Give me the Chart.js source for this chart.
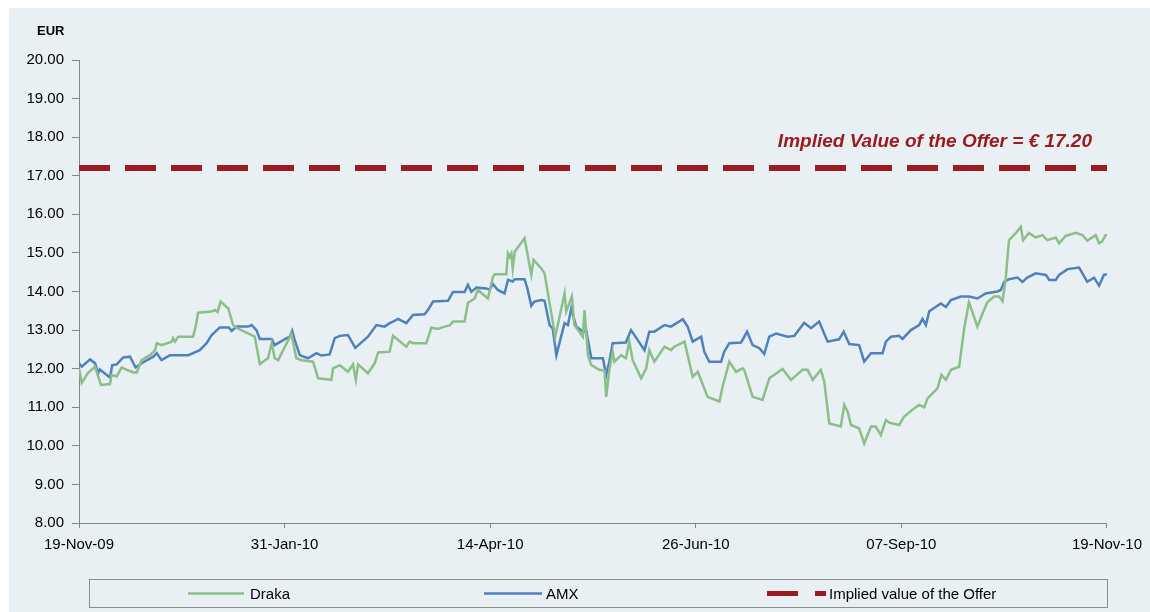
<!DOCTYPE html>
<html>
<head>
<meta charset="utf-8">
<script src="https://cdn.jsdelivr.net/npm/chart.js@4/dist/chart.umd.min.js"></script>
<style>
  html, body { margin: 0; padding: 0; background: #ffffff; }
  #wrap { width: 1150px; height: 612px; position: relative; }
</style>
</head>
<body>
<div id="wrap"><canvas id="c" width="1150" height="612"></canvas></div>
<script>
// ---- Data (days since 19-Nov-09, price in EUR) ----
const xTickLabels = ['19-Nov-09', '31-Jan-10', '14-Apr-10', '26-Jun-10', '07-Sep-10', '19-Nov-10'];
const xTickDays = [0, 73, 146, 219, 292, 365];
const seriesNames = ['Draka', 'AMX', 'Implied value of the Offer'];
const offerValue = 17.20;
const offerLabel = 'Implied Value of the Offer = € 17.20';
const yUnit = 'EUR';

const drakaDays = [0.0,1.0,3.2,4.5,5.7,6.8,7.8,11.0,11.6,13.4,15.1,19.3,20.5,22.2,25.2,27.0,27.6,29.3,32.9,33.4,34.1,35.2,40.5,41.4,42.3,47.1,48.2,49.2,50.3,53.0,54.7,55.9,61.3,62.4,64.2,67.1,68.4,69.5,70.7,75.4,77.2,79.0,83.1,84.9,89.6,90.2,92.6,95.5,97.3,98.3,99.1,102.6,105.0,106.2,110.3,111.5,116.2,117.4,118.6,123.3,125.1,127.4,129.8,131.6,132.8,136.9,138.1,140.5,141.6,145.2,147.0,147.6,151.7,152.3,152.9,153.5,154.0,154.7,158.2,160.6,161.4,164.1,165.3,169.1,172.4,173.0,175.0,175.9,178.9,179.5,180.7,181.9,184.8,186.6,187.2,188.3,189.5,190.1,192.5,194.2,195.4,196.6,199.6,201.4,202.5,204.3,207.9,210.2,211.4,215.0,217.9,219.7,223.2,227.4,228.5,230.9,233.3,235.6,236.2,239.2,242.7,245.1,249.8,252.8,256.9,258.7,260.5,263.4,264.6,266.4,270.5,271.7,272.9,274.1,277.0,278.8,281.2,282.9,284.7,286.5,287.7,291.2,292.9,296.5,298.3,300.1,301.3,304.8,306.2,307.8,309.6,312.5,314.3,316.0,319.0,320.8,322.5,324.9,326.7,327.9,329.0,330.2,332.6,334.4,335.2,337.3,339.7,342.1,343.8,346.8,348.0,350.3,353.9,356.3,358.0,361.0,362.2,363.3,364.5,365.0];
const drakaValues = [12.00,11.63,11.89,11.97,12.05,11.80,11.58,11.60,11.84,11.80,12.03,11.90,11.90,12.22,12.35,12.48,12.66,12.61,12.70,12.79,12.70,12.83,12.83,13.09,13.45,13.48,13.52,13.47,13.74,13.56,13.13,13.06,12.87,12.83,12.12,12.27,12.66,12.27,12.22,12.90,12.27,12.22,12.18,11.75,11.71,12.01,12.09,11.92,12.11,11.71,12.11,11.88,12.14,12.42,12.44,12.85,12.57,12.70,12.66,12.66,13.06,13.03,13.09,13.12,13.22,13.22,13.71,13.82,14.04,13.82,14.38,14.45,14.45,14.99,14.90,14.99,14.60,15.03,15.38,14.43,14.82,14.60,14.47,12.83,13.95,13.48,13.87,13.13,12.83,13.52,12.35,12.09,11.97,11.95,11.27,11.97,12.44,12.18,12.35,12.27,12.70,12.22,11.75,12.01,12.48,12.18,12.57,12.48,12.57,12.70,11.79,11.92,11.27,11.15,11.53,12.18,11.92,12.01,11.97,11.27,11.19,11.75,11.99,11.71,11.97,11.97,11.71,11.97,11.67,10.58,10.50,11.06,10.89,10.54,10.45,10.06,10.50,10.50,10.28,10.67,10.60,10.54,10.75,10.97,11.06,11.00,11.23,11.49,11.84,11.71,11.97,12.05,13.04,13.72,13.09,13.43,13.72,13.87,13.87,13.75,14.30,15.33,15.51,15.68,15.33,15.52,15.40,15.46,15.33,15.40,15.25,15.44,15.52,15.46,15.32,15.46,15.25,15.30,15.46,15.46];

const amxDays = [0.0,1.0,3.9,5.7,6.8,7.4,11.0,11.8,13.4,15.7,18.1,20.1,22.2,26.4,27.6,29.3,32.3,38.8,42.9,45.3,47.1,50.0,53.2,54.2,55.9,60.1,61.3,63.0,64.2,68.4,69.5,72.5,74.8,75.7,76.6,78.4,81.3,84.3,86.1,89.0,90.8,92.6,95.5,98.1,102.6,105.6,108.5,110.3,111.5,113.3,116.2,118.6,122.7,123.9,125.7,131.0,132.8,136.9,138.1,139.3,141.1,144.6,145.8,147.0,148.7,151.1,152.3,154.0,154.7,158.2,159.2,160.6,161.7,164.1,165.3,167.1,168.2,169.5,172.4,173.6,174.8,176.5,178.9,180.1,181.9,186.0,187.2,188.3,189.5,194.2,196.0,198.4,200.8,202.5,204.3,207.9,210.2,214.4,216.1,217.9,220.9,222.0,223.8,228.0,229.1,230.9,235.1,237.2,239.2,241.6,243.3,245.1,247.5,251.6,254.0,257.5,259.9,262.8,265.8,269.9,271.5,273.5,277.0,278.8,281.2,285.3,286.5,288.3,291.2,292.4,295.4,298.3,299.5,300.7,301.9,306.0,307.8,309.6,313.1,316.0,319.0,321.9,326.1,327.3,328.5,330.2,333.2,335.0,336.7,339.7,343.3,344.5,346.8,348.0,351.0,355.1,358.0,360.4,362.2,363.9,365.0];
const amxValues = [12.14,12.05,12.24,12.14,11.88,11.98,11.77,12.09,12.11,12.29,12.31,12.03,12.14,12.31,12.40,12.22,12.35,12.35,12.48,12.66,12.87,13.07,13.07,12.98,13.09,13.09,13.13,13.00,12.77,12.77,12.61,12.74,12.83,12.98,12.74,12.35,12.27,12.40,12.34,12.37,12.79,12.85,12.87,12.54,12.83,13.13,13.09,13.18,13.22,13.29,13.18,13.39,13.41,13.52,13.74,13.76,13.99,13.99,14.17,13.99,14.10,14.08,14.05,14.19,14.04,13.95,14.30,14.26,14.32,14.32,14.08,13.63,13.74,13.78,13.76,13.13,13.04,12.35,13.18,13.13,13.56,13.09,12.96,12.98,12.27,12.27,11.84,12.18,12.66,12.68,13.00,12.74,12.48,12.96,12.96,13.13,13.09,13.28,13.09,12.70,12.83,12.44,12.18,12.18,12.44,12.66,12.68,12.96,12.61,12.53,12.38,12.83,12.91,12.83,12.85,13.19,13.05,13.22,12.70,12.76,12.96,12.64,12.61,12.18,12.40,12.40,12.70,12.83,12.85,12.77,13.00,13.13,13.29,13.13,13.49,13.69,13.60,13.78,13.87,13.87,13.82,13.95,14.00,14.04,14.25,14.32,14.36,14.25,14.36,14.47,14.43,14.30,14.30,14.43,14.58,14.62,14.25,14.36,14.15,14.43,14.45];

// ---- Styles ----
const GREEN = '#8BBE89';
const BLUE = '#4F81BD';
const RED = '#9B1C20';
const AXIS = '#868686';
const FONT = '"Liberation Sans", Arial, sans-serif';

const toPoints = (days, vals) => days.map((d, i) => ({ x: d, y: vals[i] }));

const bgPlugin = {
  id: 'bg',
  beforeDraw(chart) {
    const ctx = chart.ctx;
    ctx.save();
    ctx.fillStyle = '#ffffff';
    ctx.fillRect(0, 0, chart.width, chart.height);
    ctx.fillStyle = '#E8F0F4';
    ctx.fillRect(9, 8, chart.width - 9, chart.height - 8);
    ctx.restore();
  }
};

const decorPlugin = {
  id: 'decor',
  afterDraw(chart) {
    const ctx = chart.ctx;
    const ya = chart.scales.y;
    ctx.save();
    // unit label
    ctx.fillStyle = '#000';
    ctx.font = 'bold 13px ' + FONT;
    ctx.textAlign = 'left';
    ctx.textBaseline = 'middle';
    ctx.fillText(yUnit, 37, 31);
    // annotation
    ctx.fillStyle = RED;
    ctx.font = 'italic bold 19px ' + FONT;
    ctx.textAlign = 'right';
    ctx.textBaseline = 'alphabetic';
    ctx.fillText(offerLabel, 1092, ya.getPixelForValue(offerValue) - 21);
    // legend
    const L = 89.5, T = 579.5, W = 1018, H = 28;
    ctx.strokeStyle = '#8C8C8C';
    ctx.lineWidth = 1;
    ctx.strokeRect(L, T, W, H);
    const cy = T + H / 2;
    ctx.font = '15px ' + FONT;
    ctx.textAlign = 'left';
    ctx.textBaseline = 'middle';
    ctx.fillStyle = '#000';
    // Draka
    ctx.strokeStyle = GREEN; ctx.lineWidth = 2.5;
    ctx.beginPath(); ctx.moveTo(188, cy); ctx.lineTo(244, cy); ctx.stroke();
    ctx.fillText(seriesNames[0], 250, cy + 1);
    // AMX
    ctx.strokeStyle = BLUE;
    ctx.beginPath(); ctx.moveTo(484, cy); ctx.lineTo(542, cy); ctx.stroke();
    ctx.fillText(seriesNames[1], 546, cy + 1);
    // Offer
    ctx.strokeStyle = RED; ctx.lineWidth = 5;
    ctx.beginPath(); ctx.moveTo(767, cy); ctx.lineTo(798, cy); ctx.stroke();
    ctx.beginPath(); ctx.moveTo(815, cy); ctx.lineTo(826, cy); ctx.stroke();
    ctx.fillText(seriesNames[2], 829, cy + 1);
    ctx.restore();
  }
};

new Chart(document.getElementById('c'), {
  type: 'line',
  data: {
    datasets: [
      {
        label: seriesNames[0],
        data: toPoints(drakaDays, drakaValues),
        borderColor: GREEN, borderWidth: 2.5, pointRadius: 0, tension: 0, fill: false
      },
      {
        label: seriesNames[1],
        data: toPoints(amxDays, amxValues),
        borderColor: BLUE, borderWidth: 2.5, pointRadius: 0, tension: 0, fill: false
      },
      {
        label: seriesNames[2],
        data: [{ x: xTickDays[0], y: offerValue }, { x: xTickDays[xTickDays.length - 1], y: offerValue }],
        borderColor: RED, borderWidth: 6, borderDash: [31, 15], pointRadius: 0, tension: 0, fill: false
      }
    ]
  },
  options: {
    responsive: false,
    animation: false,
    layout: { padding: { top: 60, right: 42, bottom: 50, left: 0 } },
    plugins: { legend: { display: false }, tooltip: { enabled: false } },
    scales: {
      x: {
        type: 'linear',
        min: xTickDays[0],
        max: xTickDays[xTickDays.length - 1],
        afterBuildTicks(scale) { scale.ticks = xTickDays.map(v => ({ value: v })); },
        afterFit(scale) { scale.height = 39; },
        ticks: {
          callback(v) { const i = xTickDays.indexOf(v); return i >= 0 ? xTickLabels[i] : ''; },
          font: { family: FONT, size: 15 }, color: '#000', padding: 8, maxRotation: 0, autoSkip: false
        },
        grid: { drawOnChartArea: false, drawTicks: true, tickLength: 5, color: AXIS },
        border: { display: true, color: AXIS, width: 1 }
      },
      y: {
        min: 8, max: 20,
        afterFit(scale) { scale.width = 79; },
        ticks: {
          stepSize: 1,
          callback(v) { return Number(v).toFixed(2); },
          font: { family: FONT, size: 15 }, color: '#000', padding: 8
        },
        grid: { drawOnChartArea: false, drawTicks: true, tickLength: 7, color: AXIS },
        border: { display: true, color: AXIS, width: 1 }
      }
    }
  },
  plugins: [bgPlugin, decorPlugin]
});
</script>
</body>
</html>
